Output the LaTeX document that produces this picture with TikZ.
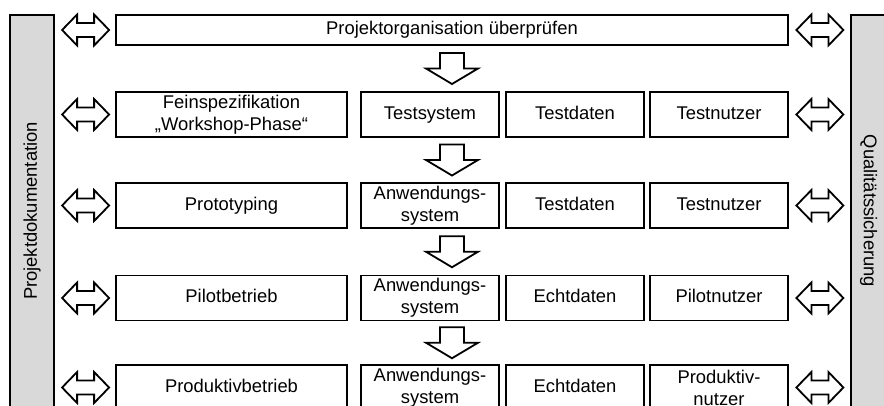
\documentclass[tikz,border=0pt]{standalone}
\usepackage{fontspec}
\setmainfont{Liberation Sans}
\usetikzlibrary{calc}
\definecolor{barfill}{HTML}{D9D9D9}
\begin{document}
\begin{tikzpicture}[x=1pt,y=-1pt,
  every node/.style={font=\fontsize{18.4}{22}\selectfont, inner sep=0pt},
  box/.style={draw, line width=1.8pt, align=center, minimum height=45},
  oneline/.style={text height=13.4, text depth=4},
  wide/.style={minimum width=231},
  narrow/.style={minimum width=138},
  sidebar/.style={draw, line width=1.8pt, fill=barfill},
  dblarrow/.pic={
    \draw[line width=1.8pt, fill=white]
      (-23.5,0) -- (-8.5,-15.5) -- (-8.5,-7) -- (8.5,-7) -- (8.5,-15.5)
      -- (23.5,0) -- (8.5,15.5) -- (8.5,7) -- (-8.5,7) -- (-8.5,15.5) -- cycle;
  },
  downarrow/.pic={
    \draw[line width=1.8pt, fill=white]
      (-12,-15.5) -- (12,-15.5) -- (12,0) -- (26,0) -- (0,15.5)
      -- (-26,0) -- (-12,0) -- cycle;
  }
]
\useasboundingbox (0,0) rectangle (884,405);
\clip (0,0) rectangle (884,405);

% side bars
\node[sidebar, rotate=90, minimum width=392, minimum height=44] (doku) at (32,211) {Projektdokumentation};
\node[sidebar, rotate=-90, minimum width=392, minimum height=35] (qs) at (868.5,211) {Qualitätssicherung};

% phase rows
\node[box, oneline, minimum width=672, minimum height=30] (top) at (452,30) {Projektorganisation überprüfen};

\node[box, wide]            (r2a) at (231.5,114.5) {Feinspezifikation\\„Workshop-Phase“};
\node[box, oneline, narrow] (r2b) at (430,114.5) {Testsystem};
\node[box, oneline, narrow] (r2c) at (575,114.5) {Testdaten};
\node[box, oneline, narrow] (r2d) at (719,114.5) {Testnutzer};

\node[box, oneline, wide]   (r3a) at (231.5,205.5) {Prototyping};
\node[box, narrow]          (r3b) at (430,205.5) {Anwendungs-\\system};
\node[box, oneline, narrow] (r3c) at (575,205.5) {Testdaten};
\node[box, oneline, narrow] (r3d) at (719,205.5) {Testnutzer};

\node[box, oneline, wide]   (r4a) at (231.5,298) {Pilotbetrieb};
\node[box, narrow]          (r4b) at (430,298) {Anwendungs-\\system};
\node[box, oneline, narrow] (r4c) at (575,298) {Echtdaten};
\node[box, oneline, narrow] (r4d) at (719,298) {Pilotnutzer};

\node[box, oneline, wide]   (r5a) at (231.5,387.5) {Produktivbetrieb};
\node[box, narrow]          (r5b) at (430,387.5) {Anwendungs-\\system};
\node[box, oneline, narrow] (r5c) at (575,387.5) {Echtdaten};
\node[box, narrow]          (r5d) at (719,387.5) {Produktiv-\\nutzer};

% exchange arrows to the side bars
\pic at ($(top.west)+(-29.5,0)$) {dblarrow};
\pic at ($(top.east)+(31,0)$) {dblarrow};
\foreach \r in {r2,r3,r4,r5}{
  \pic at ($(\r a.west)+(-29.5,0)$) {dblarrow};
  \pic at ($(\r d.east)+(31,0)$) {dblarrow};
}

% flow between phases
\pic at ($(top.south)!0.5!(top.south |- r2a.north)$) {downarrow};
\pic at ($(top.south |- r2a.south)!0.5!(top.south |- r3a.north)$) {downarrow};
\pic at ($(top.south |- r3a.south)!0.5!(top.south |- r4a.north)$) {downarrow};
\pic at ($(top.south |- r4a.south)!0.5!(top.south |- r5a.north)$) {downarrow};
\end{tikzpicture}
\end{document}
